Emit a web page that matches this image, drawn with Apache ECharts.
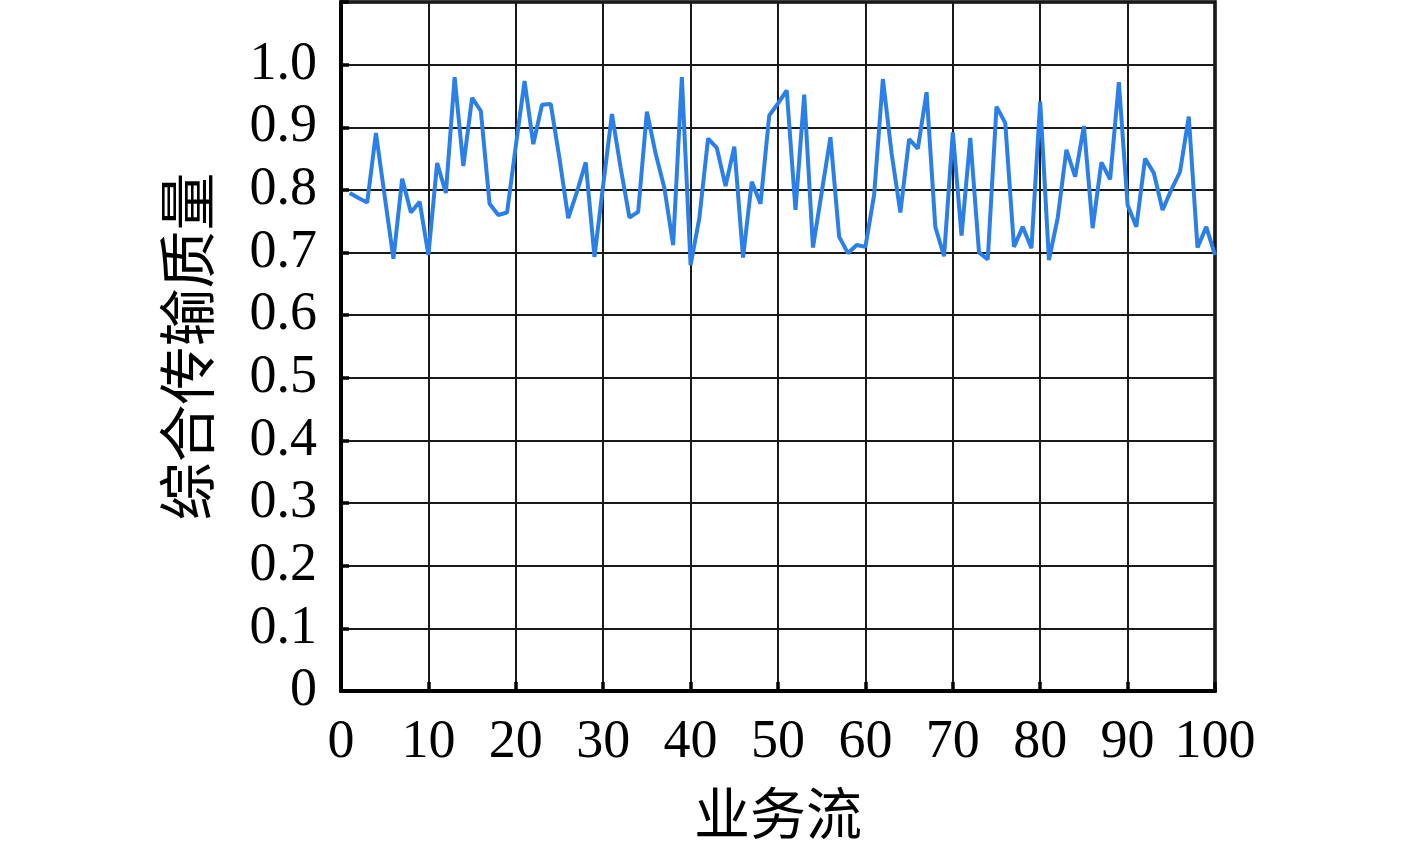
<!DOCTYPE html>
<html>
<head>
<meta charset="utf-8">
<script src="https://cdn.jsdelivr.net/npm/echarts@6/dist/echarts.min.js"></script>
<style>
html,body{margin:0;padding:0;background:#fff;}
#chart{width:1417px;height:841px;}
</style>
</head>
<body>
<div id="chart"></div>
<script>
// Business flow index (x) and integrated transmission quality (y)
var flowIds = [1,2,3,4,5,6,7,8,9,10,11,12,13,14,15,16,17,18,19,20,
  21,22,23,24,25,26,27,28,29,30,31,32,33,34,35,36,37,38,39,40,
  41,42,43,44,45,46,47,48,49,50,51,52,53,54,55,56,57,58,59,60,
  61,62,63,64,65,66,67,68,69,70,71,72,73,74,75,76,77,78,79,80,
  81,82,83,84,85,86,87,88,89,90,91,92,93,94,95,96,97,98,99,100];
var quality = [
  0.795,0.787,0.780,0.891,0.790,0.690,0.818,0.764,0.781,0.696,
  0.843,0.795,0.980,0.838,0.947,0.926,0.778,0.760,0.764,0.870,
  0.974,0.873,0.936,0.937,0.850,0.755,0.797,0.844,0.693,0.808,
  0.921,0.835,0.756,0.765,0.925,0.858,0.803,0.712,0.980,0.680,
  0.755,0.882,0.867,0.806,0.869,0.692,0.813,0.778,0.919,0.938,
  0.959,0.768,0.952,0.708,0.796,0.884,0.725,0.699,0.712,0.709,
  0.792,0.977,0.858,0.764,0.881,0.866,0.956,0.741,0.694,0.892,
  0.727,0.883,0.700,0.689,0.933,0.907,0.709,0.741,0.707,0.941,
  0.688,0.755,0.864,0.821,0.902,0.739,0.844,0.817,0.972,0.776,
  0.741,0.850,0.827,0.768,0.800,0.829,0.917,0.708,0.741,0.696
];
var xName = '业务流';
var yName = '综合传输质量';

var seriesData = flowIds.map(function (id, i) { return [id, quality[i]]; });

var chart = echarts.init(document.getElementById('chart'), null, {renderer: 'canvas'});
var serif = '"Liberation Serif", "DejaVu Serif", serif';
var cjk = '"Noto Sans CJK SC", sans-serif';

chart.setOption({
  animation: false,
  backgroundColor: '#ffffff',
  grid: {
    left: 341, right: 202, top: 2, bottom: 150,
    outerBoundsMode: 'none', containLabel: false,
    show: true, borderColor: '#000', borderWidth: 3.5, backgroundColor: 'transparent'
  },
  xAxis: {
    type: 'value', min: 0, max: 100, interval: 10,
    name: xName, nameLocation: 'middle', nameGap: 94,
    nameTextStyle: {fontFamily: cjk, fontSize: 56, color: '#000'},
    axisLine: {show: true, onZero: false, lineStyle: {color: '#000', width: 4}},
    axisTick: {show: true, inside: true, length: 9, lineStyle: {color: '#000', width: 3.5}},
    axisLabel: {fontFamily: serif, fontSize: 54, color: '#000', margin: 25},
    splitLine: {show: true, lineStyle: {color: '#1a1a1a', width: 2}}
  },
  yAxis: {
    type: 'value', min: 0, max: 1.1, interval: 0.1,
    name: yName, nameLocation: 'middle', nameRotate: 90, nameGap: 125,
    nameTextStyle: {fontFamily: cjk, fontSize: 58, color: '#000'},
    axisLine: {show: true, onZero: false, lineStyle: {color: '#000', width: 4}},
    axisTick: {show: true, inside: true, length: 8, lineStyle: {color: '#000', width: 3.5}},
    axisLabel: {
      fontFamily: serif, fontSize: 54, color: '#000', margin: 24,
      formatter: function (v) {
        if (v > 1.05) return '';
        if (Math.abs(v) < 1e-9) return '0';
        return v.toFixed(1);
      }
    },
    splitLine: {show: true, lineStyle: {color: '#1a1a1a', width: 2}}
  },
  series: [{
    type: 'line',
    data: seriesData,
    showSymbol: false,
    symbol: 'none',
    lineStyle: {color: '#2a7fe8', width: 4},
    clip: true
  }]
});
</script>
</body>
</html>
